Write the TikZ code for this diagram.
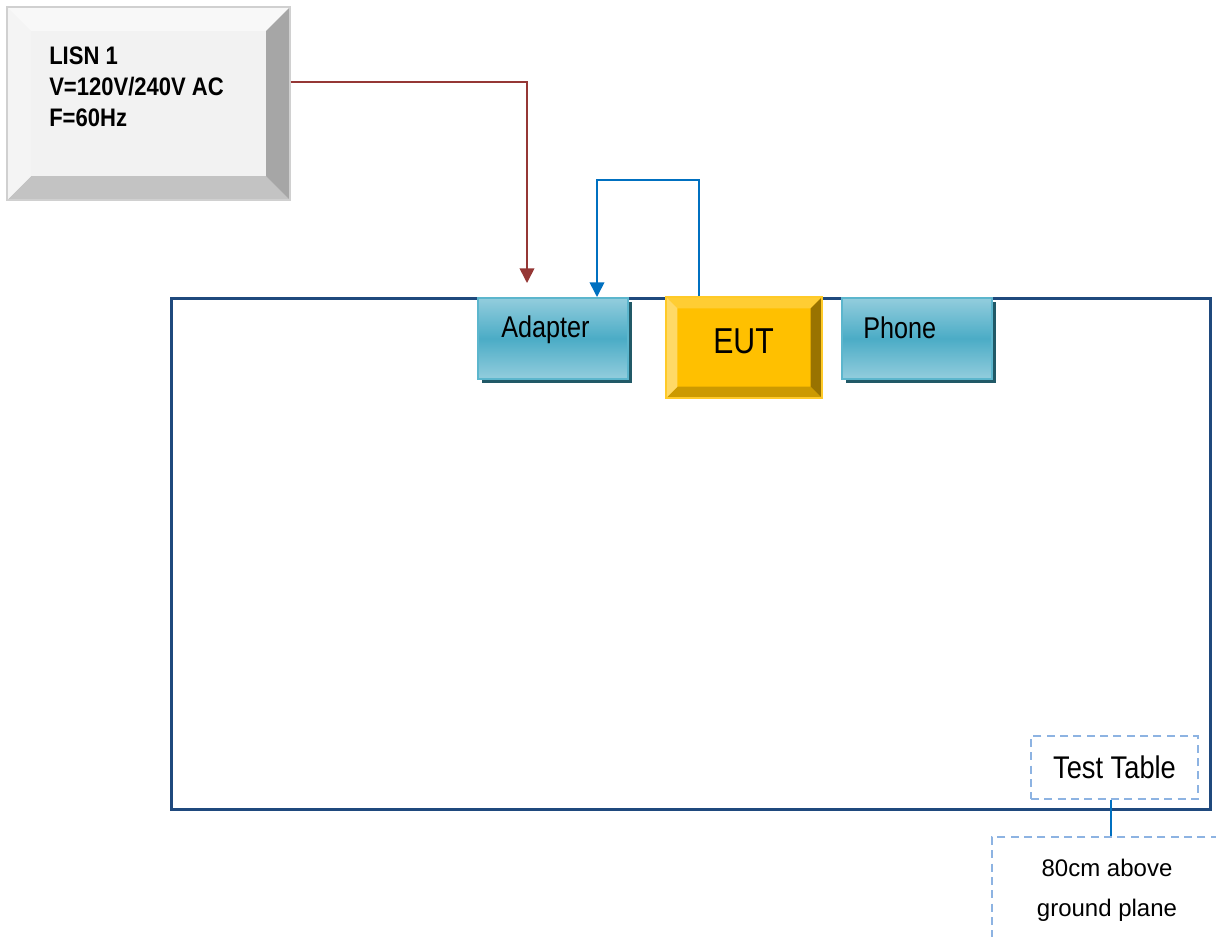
\documentclass[tikz,border=0pt]{standalone}
\usepackage{fontspec}
\setmainfont{Liberation Sans}
\newfontfamily\narrowfont[FakeStretch=0.84]{Liberation Sans}
\newfontfamily\narrowwidefont[FakeStretch=0.87]{Liberation Sans}
\usetikzlibrary{arrows.meta,shadows,calc}
\definecolor{lisnface}{HTML}{F2F2F2}
\definecolor{lisnedge}{HTML}{D0D0D0}
\definecolor{lisntop}{HTML}{F8F8F8}
\definecolor{lisnleft}{HTML}{F4F4F4}
\definecolor{lisnright}{HTML}{A6A6A6}
\definecolor{lisnbottom}{HTML}{C3C3C3}
\definecolor{eutface}{HTML}{FFC000}
\definecolor{eutedge}{HTML}{FFCA28}
\definecolor{euttop}{HTML}{FFCD33}
\definecolor{eutleft}{HTML}{FFD966}
\definecolor{eutright}{HTML}{997300}
\definecolor{eutbottom}{HTML}{CC9A00}
\definecolor{teallight}{HTML}{93CDDD}
\definecolor{tealmid}{HTML}{4BACC6}
\definecolor{tealedge}{HTML}{5CB6CD}
\definecolor{tealshadow}{HTML}{215967}
\definecolor{tableblue}{HTML}{1F497D}
\definecolor{dashblue}{HTML}{8DB3E2}
\definecolor{connblue}{HTML}{0070C0}
\definecolor{connred}{HTML}{953735}
\tikzset{
  bvsize/.initial=10pt,
  bvtop/.initial=white,
  bvleft/.initial=white,
  bvright/.initial=gray,
  bvbottom/.initial=gray,
  bevelbox/.style={rectangle, inner sep=0pt, path picture={
    \def\bd{\pgfkeysvalueof{/tikz/bvsize}}
    \fill[fill=\pgfkeysvalueof{/tikz/bvtop}] (path picture bounding box.north west) -- (path picture bounding box.north east)
      -- ([shift={(-\bd,-\bd)}]path picture bounding box.north east) -- ([shift={(\bd,-\bd)}]path picture bounding box.north west) -- cycle;
    \fill[fill=\pgfkeysvalueof{/tikz/bvbottom}] (path picture bounding box.south west) -- (path picture bounding box.south east)
      -- ([shift={(-\bd,\bd)}]path picture bounding box.south east) -- ([shift={(\bd,\bd)}]path picture bounding box.south west) -- cycle;
    \fill[fill=\pgfkeysvalueof{/tikz/bvleft}] (path picture bounding box.north west) -- (path picture bounding box.south west)
      -- ([shift={(\bd,\bd)}]path picture bounding box.south west) -- ([shift={(\bd,-\bd)}]path picture bounding box.north west) -- cycle;
    \fill[fill=\pgfkeysvalueof{/tikz/bvright}] (path picture bounding box.north east) -- (path picture bounding box.south east)
      -- ([shift={(-\bd,\bd)}]path picture bounding box.south east) -- ([shift={(-\bd,-\bd)}]path picture bounding box.north east) -- cycle;
  }},
  tealbox/.style={rectangle, inner sep=0pt, minimum width=112.5pt, minimum height=60.75pt,
    top color=teallight, bottom color=teallight, middle color=tealmid, draw=tealedge, line width=1.5pt,
    general shadow={fill=tealshadow, shadow xshift=3pt, shadow yshift=-3pt}},
  tlabel/.style={inner sep=0pt, font=\narrowfont\fontsize{22.5}{27}\selectfont},
  dashbox/.style={rectangle, inner sep=0pt, draw=dashblue, line width=1.5pt, dash pattern=on 6pt off 4pt, fill=white},
  redconn/.style={draw=connred, line width=1.2pt, -{Triangle[width=11pt,length=11pt]}},
  blueconn/.style={draw=connblue, line width=1.2pt, -{Triangle[width=11pt,length=11pt]}},
  tconn/.style={draw=connblue, line width=1.5pt},
}
\begin{document}
\begin{tikzpicture}[x=0.75pt,y=-0.75pt]
\useasboundingbox (0,0) rectangle (1216,936);
\clip (0,0) rectangle (1216,936);
\fill[white] (0,0) rectangle (1216,936);

% table outline
\node[rectangle, inner sep=0pt, draw=tableblue, line width=2.25pt, minimum width=779.25pt, minimum height=383.25pt] (table) at (690.5,553.5) {};

% LISN
\node[bevelbox, minimum width=212.25pt, minimum height=144.75pt, fill=lisnface, draw=lisnedge, line width=1pt,
  bvsize=18pt, bvtop=lisntop, bvleft=lisnleft, bvright=lisnright, bvbottom=lisnbottom] (lisn) at (148.5,103.5) {};
\node[anchor=north west, inner sep=0pt, align=left, font=\narrowwidefont\bfseries\fontsize{19}{23.25}\selectfont] (lisnT) at (49,47) {LISN 1\\V=120V/240V AC\\F=60Hz};

% Adapter
\node[tealbox] (adapter) at (553,338.5) {};
\node[tlabel, anchor=base west] (adapterT) at ([shift={(24,40)}]adapter.north west) {Adapter};

% EUT
\node[bevelbox, minimum width=117pt, minimum height=75.75pt, fill=eutface, draw=eutedge, line width=1.2pt,
  bvsize=8.5pt, bvtop=euttop, bvleft=eutleft, bvright=eutright, bvbottom=eutbottom] (eut) at (744,347.5) {};
\node[inner sep=0pt, anchor=base, font=\narrowfont\fontsize{27}{32}\selectfont] (eutT) at ([shift={(-0.5,5.5)}]eut.center) {EUT};

% Phone
\node[tealbox] (phone) at (917,338.5) {};
\node[tlabel, anchor=base west] (phoneT) at ([shift={(22,41)}]phone.north west) {Phone};

% Test table label and callout
\node[dashbox, minimum width=125.25pt, minimum height=47.25pt, font=\narrowwidefont\fontsize{23.5}{28}\selectfont] (tt) at (1114.5,767.5) {Test Table};
\node[dashbox, anchor=north west, minimum width=190pt, minimum height=110pt] (gp) at (991,836) {};
\node[inner sep=0pt, anchor=north, align=center, font=\fontsize{18}{30}\selectfont] (gpT) at (1107,858.5) {80cm above\\ground plane};
\draw[tconn] ([xshift=-2.5]tt.south) -- ([xshift=-2.5]tt.south |- gp.north);

% connectors
\draw[redconn] ([shift={(0,-21.5)}]lisn.east) -| ([shift={(50,-14)}]adapter.north west);
\draw[blueconn] ([shift={(34,0)}]eut.north west) -- ++(0,-116) -| ([shift={(120,0)}]adapter.north west);
\end{tikzpicture}
\end{document}
